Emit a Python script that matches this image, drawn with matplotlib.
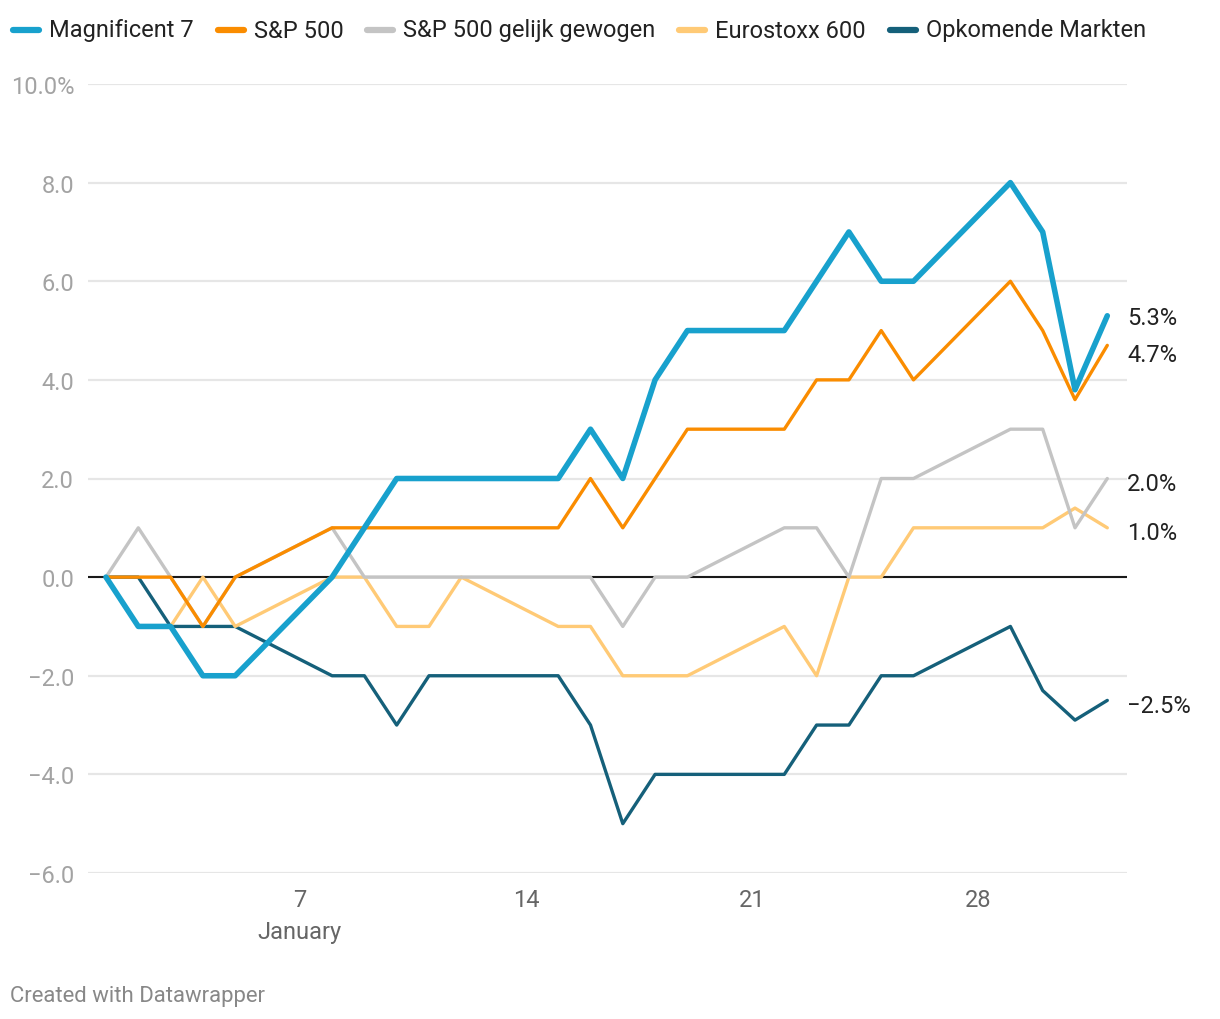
import matplotlib
matplotlib.use("Agg")
import matplotlib.pyplot as plt
from matplotlib.lines import Line2D
from matplotlib.ticker import FixedLocator, FuncFormatter

plt.rcParams["font.family"] = ["Roboto", "DejaVu Sans"]

# trading days, counted from 1 January (32 = 1 February)
days = [1, 2, 3, 4, 5, 8, 9, 10, 11, 12, 15, 16, 17, 18, 19, 22, 23, 24, 25, 26, 29, 30, 31, 32]

series_names = ["Magnificent 7", "S&P 500", "S&P 500 gelijk gewogen", "Eurostoxx 600", "Opkomende Markten"]
mag7 =      [0, -1, -1, -2, -2, 0, 1, 2, 2, 2, 2, 3, 2, 4, 5, 5, 6, 7, 6, 6, 8, 7, 3.8, 5.3]
sp500 =     [0, 0, 0, -1, 0, 1, 1, 1, 1, 1, 1, 2, 1, 2, 3, 3, 4, 4, 5, 4, 6, 5, 3.6, 4.7]
sp500_eq =  [0, 1, 0, -1, 0, 1, 0, 0, 0, 0, 0, 0, -1, 0, 0, 1, 1, 0, 2, 2, 3, 3, 1.0, 2.0]
stoxx600 =  [0, -1, -1, 0, -1, 0, 0, -1, -1, 0, -1, -1, -2, -2, -2, -1, -2, 0, 0, 1, 1, 1, 1.4, 1.0]
em =        [0, 0, -1, -1, -1, -2, -2, -3, -2, -2, -2, -3, -5, -4, -4, -4, -3, -3, -2, -2, -1, -2.3, -2.9, -2.5]
end_labels = ["5.3%", "4.7%", "2.0%", "1.0%", "\u22122.5%"]

x_ticks = [7, 14, 21, 28]
x_tick_labels = ["7\nJanuary", "14", "21", "28"]
y_ticks = [-6, -4, -2, 0, 2, 4, 6, 8, 10]

colors = ["#18a1cd", "#fa8c00", "#c4c4c4", "#ffca76", "#15607a"]
widths = [4.0, 2.4, 2.4, 2.4, 2.4]
all_series = [mag7, sp500, sp500_eq, stoxx600, em]

W, H = 1220, 1020
TOP, BOTTOM = 85, 874
fig = plt.figure(figsize=(W / 100, H / 100), dpi=100)
ax = fig.add_axes([88 / W, 1 - BOTTOM / H, (1127 - 88) / W, (BOTTOM - TOP) / H])

ax.set_xlim(0.443, 32.61)
ax.set_ylim(-6, 10)

for s in ax.spines.values():
    s.set_visible(False)

ax.yaxis.set_major_locator(FixedLocator(y_ticks))
ax.yaxis.set_major_formatter(FuncFormatter(
    lambda v, p: f"{v:.1f}%" if v == 10 else f"{v:.1f}".replace("-", "\u2212")))
ax.grid(axis="y", color="#e6e6e6", linewidth=1.6, zorder=0)
ax.tick_params(axis="y", length=0, pad=10, labelsize=17, labelcolor="#a3a3a3")

ax.set_xticks(x_ticks)
ax.set_xticklabels(x_tick_labels)
ax.tick_params(axis="x", length=0, pad=10.5, labelsize=17, labelcolor="#666666")
for lab in ax.get_xticklabels():
    lab.set_linespacing(1.5)

ax.axhline(0, color="#1a1a1a", linewidth=1.5, zorder=2)

# first series drawn on top
for i in reversed(range(len(all_series))):
    ax.plot(days, all_series[i], color=colors[i], linewidth=widths[i],
            solid_joinstyle="round", solid_capstyle="round",
            zorder=3 + (len(all_series) - i), clip_on=False)

# end labels, pushed apart a bit where they collide
ends = [s[-1] for s in all_series]
px_per_unit = (BOTTOM - TOP) / 16
label_y = list(ends)
order = sorted(range(len(ends)), key=lambda k: -ends[k])
min_gap = 37 / px_per_unit
for a, b in zip(order, order[1:]):
    if label_y[a] - label_y[b] < min_gap:
        mid = (label_y[a] + label_y[b]) / 2
        label_y[a] = mid + min_gap / 2
        label_y[b] = mid - min_gap / 2
for i, txt in enumerate(end_labels):
    ax.annotate(txt, xy=(days[-1], label_y[i]), xytext=(20, -5),
                textcoords="offset pixels", va="center", ha="left",
                fontsize=17, color="#222222", annotation_clip=False)

# legend row
legend_x = [11, 216, 365, 677, 888]
ly = 1 - 31 / H
for i, name in enumerate(series_names):
    x0 = legend_x[i] / W
    fig.add_artist(Line2D([x0 + 2 / W, x0 + 28 / W], [ly, ly], color=colors[i],
                          linewidth=4.5, solid_capstyle="round"))
    fig.text(x0 + 38 / W, ly, name, va="center", ha="left", fontsize=17, color="#222222")

fig.text(10 / W, 1 - 997 / H, "Created with Datawrapper", va="center", ha="left",
         fontsize=15.9, color="#888888")

fig.savefig("out.png", dpi=100)
